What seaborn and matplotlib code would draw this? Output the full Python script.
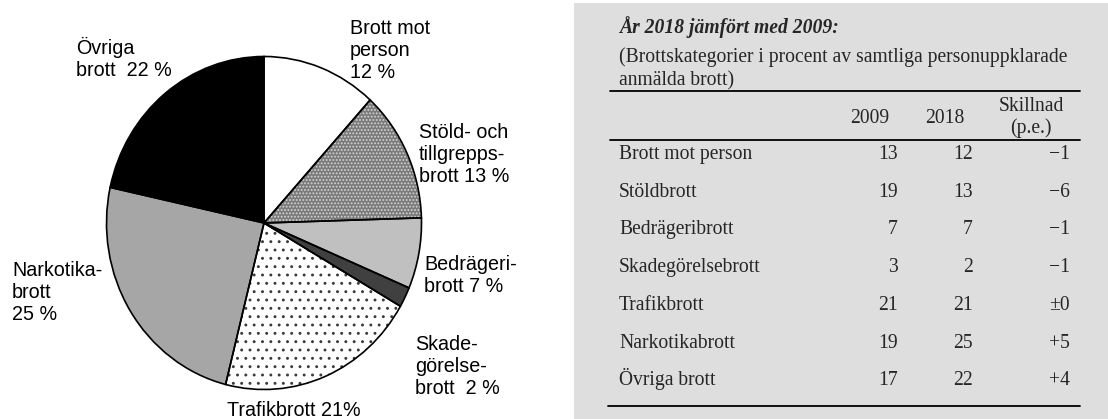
import numpy as np
import pandas as pd
import matplotlib
matplotlib.use("Agg")
import matplotlib.pyplot as plt
import seaborn as sns
from matplotlib.lines import Line2D
from matplotlib.patches import Rectangle

# ---------------- data ----------------
categories = ["Brott mot person", "Stöld- och tillgreppsbrott", "Bedrägeribrott",
              "Skadegörelsebrott", "Trafikbrott", "Narkotikabrott", "Övriga brott"]
share_2018 = [12, 13, 7, 2, 21, 25, 22]
pie_labels = ["Brott mot\nperson\n12 %", "Stöld- och\ntillgrepps-\nbrott 13 %",
              "Bedrägeri-\nbrott 7 %", "Skade-\ngörelse-\nbrott  2 %",
              "Trafikbrott 21%", "Narkotika-\nbrott\n25 %", "Övriga\nbrott  22 %"]

table_title = "År 2018 jämfört med 2009:"
table_subtitle = ["(Brottskategorier i procent av samtliga personuppklarade",
                  "anmälda brott)"]
table_rows = ["Brott mot person", "Stöldbrott", "Bedrägeribrott", "Skadegörelsebrott",
              "Trafikbrott", "Narkotikabrott", "Övriga brott"]
values_2009 = [13, 19, 7, 3, 21, 19, 17]
values_2018 = [12, 13, 7, 2, 21, 25, 22]
diff_labels = ["\u22121", "\u22126", "\u22121", "\u22121", "\u00b10", "+5", "+4"]
col_headers = ["2009", "2018", "Skillnad\n(p.e.)"]

df = pd.DataFrame({"kategori": table_rows, "y2009": values_2009,
                   "y2018": values_2018, "diff": diff_labels})

# ---------------- style ----------------
sns.set_theme(style="white")
plt.rcParams['font.family'] = ['Liberation Sans', 'DejaVu Sans']
plt.rcParams['hatch.linewidth'] = 0.9

W, H = 1108, 419
fig = plt.figure(figsize=(W / 100, H / 100), dpi=100)
fig.patch.set_facecolor("white")

def fx(x):
    return x / W

def fy(y):
    return 1 - y / H

# ---------------- pie ----------------
face_cols = ["#ffffff", "#7a7a7a", "#c0c0c0", "#404040", "#ffffff", "#a6a6a6", "#000000"]
hatch_cols = ["#ffffff", "#d4d4d4", "#c0c0c0", "#404040", "#3a3a3a", "#a6a6a6", "#000000"]
hatches = [None, ".....", None, None, "..", None, None]

cx, cy, rx, ry = 264, 223, 157.5, 166.5
ax = fig.add_axes([fx(cx - rx), fy(cy + ry), 2 * rx / W, 2 * ry / H])
wedges, _ = ax.pie(share_2018, startangle=90, counterclock=False,
                   colors=face_cols, wedgeprops=dict(linewidth=0, clip_on=False))
for w, hc, ht in zip(wedges, hatch_cols, hatches):
    w.set_edgecolor(hc)
    w.set_linewidth(0)
    if ht:
        w.set_hatch(ht)
ax.pie(share_2018, startangle=90, counterclock=False,
       wedgeprops=dict(fill=False, edgecolor="black", linewidth=1.2, clip_on=False))
ax.set_aspect("auto")
ax.set_xlim(-1, 1)
ax.set_ylim(-1, 1)
ax.axis("off")

label_pos = [(350, 19), (419, 123), (424, 255), (415, 335), (227, 401), (12, 261), (76, 37)]
for lab, (lx, ly) in zip(pie_labels, label_pos):
    fig.text(fx(lx), fy(ly), lab, ha="left", va="top", fontsize=14.2,
             family=["Liberation Sans", "DejaVu Sans"], linespacing=1.2, color="black")

# ---------------- table panel ----------------
fig.patches.append(Rectangle((fx(574), 0), 1 - fx(574), fy(3), transform=fig.transFigure,
                             facecolor="#dedede", edgecolor="none", zorder=0))

serif = ["Liberation Serif", "DejaVu Serif"]
fs = 14.1
fig.text(fx(619), fy(33), table_title, fontsize=fs, family=serif, fontweight="bold",
         fontstyle="italic", va="baseline", ha="left")
for i, line in enumerate(table_subtitle):
    fig.text(fx(619), fy(62 + 23 * i), line, fontsize=fs, family=serif,
             va="baseline", ha="left")

for yy, x0 in [(91, 610), (140, 610), (406, 608)]:
    fig.add_artist(Line2D([fx(x0), fx(1080)], [fy(yy), fy(yy)], transform=fig.transFigure,
                          color="black", linewidth=1.3))

fig.text(fx(870), fy(123), col_headers[0], fontsize=fs, family=serif, ha="center", va="baseline")
fig.text(fx(945), fy(123), col_headers[1], fontsize=fs, family=serif, ha="center", va="baseline")
h1, h2 = col_headers[2].split("\n")
fig.text(fx(1031), fy(111), h1, fontsize=fs, family=serif, ha="center", va="baseline")
fig.text(fx(1031), fy(133), h2, fontsize=fs, family=serif, ha="center", va="baseline")

for i, row in df.iterrows():
    yb = 159 + 37.7 * i
    fig.text(fx(619), fy(yb), row["kategori"], fontsize=fs, family=serif, ha="left", va="baseline")
    fig.text(fx(898), fy(yb), str(row["y2009"]), fontsize=fs, family=serif, ha="right", va="baseline")
    fig.text(fx(973), fy(yb), str(row["y2018"]), fontsize=fs, family=serif, ha="right", va="baseline")
    fig.text(fx(1070), fy(yb), row["diff"], fontsize=fs, family=serif, ha="right", va="baseline")

fig.savefig("out.png", dpi=100, facecolor="white")
